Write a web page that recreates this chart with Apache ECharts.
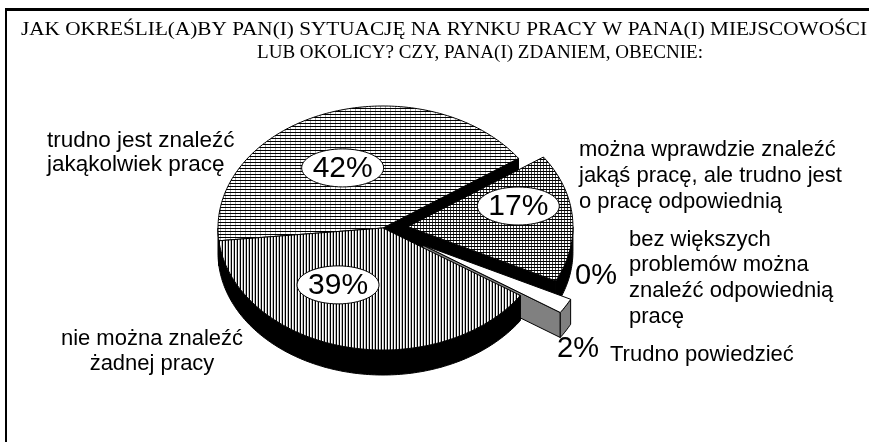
<!DOCTYPE html>
<html><head><meta charset="utf-8">
<script src="https://cdn.jsdelivr.net/npm/echarts@6/dist/echarts.min.js"></script>
<style>html,body{margin:0;padding:0;background:#fff}#c{width:869px;height:442px}</style>
</head><body><div id="c"></div>
<script>
// ---- data ----
const titleLines = [
  'JAK OKREŚLIŁ(A)BY PAN(I) SYTUACJĘ NA RYNKU PRACY W PANA(I) MIEJSCOWOŚCI',
  'LUB OKOLICY? CZY, PANA(I) ZDANIEM, OBECNIE:'
];
const categories = [
  'trudno jest znaleźć\njakąkolwiek pracę',
  'można wprawdzie znaleźć\njakąś pracę, ale trudno jest\no pracę odpowiednią',
  'bez większych\nproblemów można\nznaleźć odpowiednią\npracę',
  'Trudno powiedzieć',
  'nie można znaleźć\nżadnej pracy'
];
const values = [42, 17, 0, 2, 39];

// ---- styles / layout ----
const SANS = '"Liberation Sans", Arial, sans-serif';
const SERIF = '"Liberation Serif", "Times New Roman", serif';
const PIE = {cx: 383, cy: 228, rx: 165, ry: 122, depth: 25, startAngle: 186};
const TITLE = [
  {x: 21, y: 30, width: 846, size: 19},
  {x: 257, y: 53, width: 446, size: 19}
];

function makePattern(w, h, draw) {
  const c = document.createElement('canvas');
  c.width = w; c.height = h;
  const g = c.getContext('2d');
  g.fillStyle = '#fff'; g.fillRect(0, 0, w, h);
  draw(g);
  return {image: c, repeat: 'repeat'};
}
const patH = makePattern(5, 3, g => { g.fillStyle = '#000'; g.fillRect(0, 0, 5, 1); g.fillStyle = '#aaa'; g.fillRect(0, 1, 1, 2); });
const patGrid = makePattern(3, 3, g => { g.fillStyle = '#000'; g.fillRect(0, 0, 3, 1); g.fillStyle = '#444'; g.fillRect(0, 1, 1, 2); });
const patV = makePattern(3, 1, g => { g.fillStyle = '#000'; g.fillRect(0, 0, 1, 1); g.fillStyle = '#bbb'; g.fillRect(2, 0, 1, 1); });

const sliceStyle = [
  {explode: 0,  fill: patH,    wall: '#000', pct: {inside: true, f: 0.55, da: 6},
   cat: {x: 47, y: 129, align: 'left', lh: 24, size: 22.5}},
  {explode: 25, fill: patGrid, wall: '#000', pct: {inside: true, f: 0.69, da: 10},
   cat: {x: 579, y: 137, align: 'left', lh: 26, size: 22}},
  {explode: 0,  fill: '#fff',  wall: '#000', pct: {inside: false, x: 575, y: 276, size: 29},
   cat: {x: 629, y: 227, align: 'left', lh: 25.6, size: 22}},
  {explode: 46, fill: '#fff',  wall: '#808080', pct: {inside: false, x: 557, y: 349, size: 29},
   cat: {x: 610, y: 342, align: 'left', lh: 26, size: 22}},
  {explode: 0,  fill: patV,    wall: '#000', pct: {inside: true, f: 0.54, da: -16.5},
   cat: {x: 152, y: 326.5, align: 'center', lh: 25, size: 22}}
];

const RAD = Math.PI / 180;
const total = values.reduce((a, b) => a + b, 0);
function sliceAngles(i) {
  let before = 0;
  for (let k = 0; k < i; k++) before += values[k];
  const k = 360 / total;
  const hi = PIE.startAngle - before * k;
  const lo = hi - values[i] * k;
  return [lo, hi];
}

function renderItem(params, api) {
  const i = params.dataIndex;
  const v = api.value(0);
  const st = sliceStyle[i];
  const [lo, hi] = sliceAngles(i);
  const bis = (lo + hi) / 2;
  const ratio = PIE.ry / PIE.rx;
  const ox = st.explode * Math.cos(bis * RAD);
  const oy = -st.explode * ratio * Math.sin(bis * RAD);
  const R = PIE.rx, D = PIE.depth;
  const pt = (a, r, h) => [PIE.cx + ox + r * Math.cos(a * RAD), PIE.cy + oy - r * ratio * Math.sin(a * RAD) + h];
  const ch = [];
  if (v > 0) {
    const wallStyle = {fill: st.wall, stroke: '#000', lineWidth: 1};
    if (Math.cos(lo * RAD) > 0)
      ch.push({type: 'polygon', shape: {points: [pt(0, 0, 0), pt(lo, R, 0), pt(lo, R, D), pt(0, 0, D)]}, style: wallStyle});
    if (Math.cos(hi * RAD) < 0)
      ch.push({type: 'polygon', shape: {points: [pt(0, 0, 0), pt(hi, R, 0), pt(hi, R, D), pt(0, 0, D)]}, style: wallStyle});
    const list = [lo];
    for (let a = Math.floor(lo) + 1; a < hi; a++) list.push(a);
    list.push(hi);
    let run = [];
    const flush = () => {
      if (run.length > 1) {
        const top = run.map(a => pt(a, R, 0));
        const bot = run.slice().reverse().map(a => pt(a, R, D));
        ch.push({type: 'polygon', shape: {points: top.concat(bot)}, style: wallStyle});
      }
      run = [];
    };
    for (let j = 0; j < list.length - 1; j++) {
      const m = (list[j] + list[j + 1]) / 2;
      if (Math.sin(m * RAD) < 0) { if (!run.length) run.push(list[j]); run.push(list[j + 1]); }
      else flush();
    }
    flush();
    const topPts = [pt(0, 0, 0)].concat(list.map(a => pt(a, R, 0)));
    ch.push({type: 'polygon', shape: {points: topPts}, style: {fill: st.fill, stroke: '#000', lineWidth: 1}});
  }
  const pctText = Math.round(v / total * 100) + '%';
  if (st.pct.inside) {
    const c = pt(bis + st.pct.da, st.pct.f * R, 0);
    ch.push({type: 'ellipse', shape: {cx: c[0], cy: c[1], rx: 41, ry: 19}, style: {fill: '#fff', stroke: '#000', lineWidth: 1}, z2: 50});
    ch.push({type: 'text', x: c[0], y: c[1] + 1, style: {text: pctText, fontSize: 30, fontFamily: SANS, fill: '#000', align: 'center', verticalAlign: 'middle'}, z2: 51});
  } else {
    ch.push({type: 'text', x: st.pct.x, y: st.pct.y, style: {text: pctText, fontSize: st.pct.size, fontFamily: SANS, fill: '#000', align: 'left', verticalAlign: 'middle'}, z2: 51});
  }
  ch.push({type: 'text', x: st.cat.x, y: st.cat.y, style: {text: categories[i], fontSize: st.cat.size, fontFamily: SANS, fill: '#000', align: st.cat.align, verticalAlign: 'top', lineHeight: st.cat.lh}, z2: 51});
  return {type: 'group', children: ch};
}

// title lines as text, stretched to the reference width
const mctx = document.createElement('canvas').getContext('2d');
const titleGraphics = titleLines.map((t, k) => {
  const cfg = TITLE[k];
  mctx.font = cfg.size + 'px ' + SERIF;
  const w = mctx.measureText(t).width || cfg.width;
  return {type: 'text', x: cfg.x, y: cfg.y, scaleX: cfg.width / w,
    style: {text: t, fontSize: cfg.size, fontFamily: SERIF, fill: '#000', align: 'left', verticalAlign: 'middle'}};
});

const chart = echarts.init(document.getElementById('c'), null, {renderer: 'canvas'});
chart.setOption({
  animation: false,
  backgroundColor: '#fff',
  graphic: [
    {type: 'line', shape: {x1: 5, y1: 9.5, x2: 869, y2: 9.5}, style: {stroke: '#000', lineWidth: 3}},
    {type: 'line', shape: {x1: 6, y1: 9, x2: 6, y2: 442}, style: {stroke: '#000', lineWidth: 2}}
  ].concat(titleGraphics),
  series: [{
    type: 'custom',
    coordinateSystem: 'none',
    silent: true,
    renderItem: renderItem,
    data: values.map(v => [v])
  }]
});
</script>
</body></html>
